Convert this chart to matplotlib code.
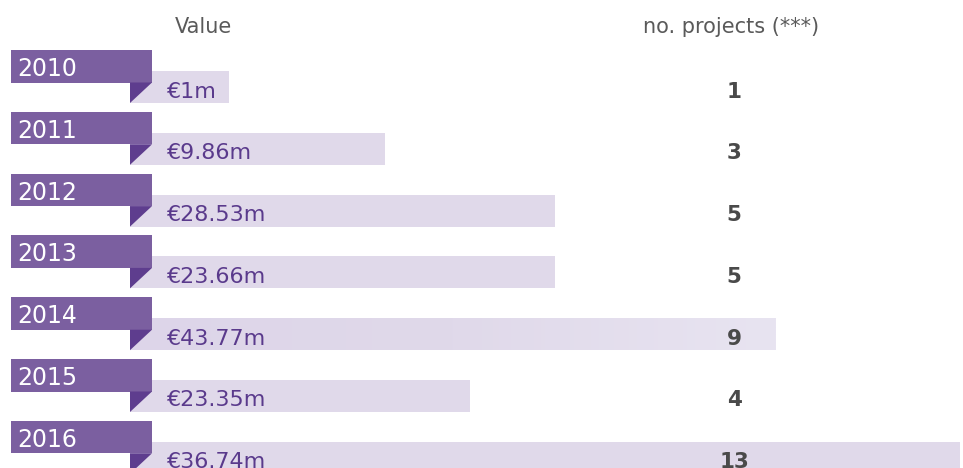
import matplotlib
matplotlib.use("Agg")
import matplotlib.pyplot as plt
import numpy as np
from matplotlib.patches import Rectangle, Polygon
from matplotlib.colors import LinearSegmentedColormap

years = ["2010", "2011", "2012", "2013", "2014", "2015", "2016"]
value_labels = ["€1m", "€9.86m", "€28.53m", "€23.66m", "€43.77m", "€23.35m", "€36.74m"]
projects = [1, 3, 5, 5, 9, 4, 13]
# bar extent as drawn in the infographic (arbitrary units)
bar_extent = [0.99, 2.55, 4.25, 4.25, 6.46, 3.40, 8.30]

TAB = "#7b5fa0"
TRI = "#5e3d8e"
BAR = "#e0d9ea"
VAL = "#5a3a8c"
NUM = "#4a4a4a"
HDR = "#5a5a5a"
FONT = ["DejaVu Sans"]

fig = plt.figure(figsize=(9.63, 4.68), dpi=100)
ax = fig.add_axes([0, 0, 1, 1])
# x: bar units, 1 unit = 100 px, bar origin at 130 px; y: pixel rows (inverted)
ax.set_xlim(-1.30, 8.33)
ax.set_ylim(468, 0)
ax.axis("off")

row_h = 61.8
for i, (yr, vl, n, ext) in enumerate(zip(years, value_labels, projects, bar_extent)):
    top = 50 + row_h * i
    # bar
    if yr == "2014":
        grad = np.linspace(0, 1, 256)[None, :]
        cmap = LinearSegmentedColormap.from_list("g", ["#ddd5e9", "#e0d9ea", "#e8e4f1"])
        ax.imshow(grad, extent=(0, ext, top + 53, top + 21), aspect="auto", cmap=cmap, zorder=1)
    else:
        ax.add_patch(Rectangle((0, top + 21), ext, 32, facecolor=BAR, edgecolor="none", zorder=1))
    # year tab
    ax.add_patch(Rectangle((-1.19, top), 1.41, 32.5, facecolor=TAB, edgecolor="none", zorder=2))
    # triangle
    ax.add_patch(Polygon([(0, top + 32.5), (0.22, top + 32.5), (0, top + 53)], closed=True,
                         facecolor=TRI, edgecolor="none", zorder=2))
    ax.text(-1.13, top + 26, yr, color="white", fontsize=17, family=FONT,
            va="baseline", ha="left", zorder=3)
    ax.text(0.37, top + 47.5, vl, color=VAL, fontsize=16, family=FONT,
            va="baseline", ha="left", zorder=3)
    ax.text(6.04, top + 47.5, str(n), color=NUM, fontsize=15.5, family=FONT, fontweight="bold",
            va="baseline", ha="center", zorder=3)

ax.text(0.73, 33, "Value", color=HDR, fontsize=15, family=FONT, ha="center", va="baseline")
ax.text(6.01, 33, "no. projects (***)", color=HDR, fontsize=15, family=FONT, ha="center", va="baseline")

fig.savefig("out.png", dpi=100)
